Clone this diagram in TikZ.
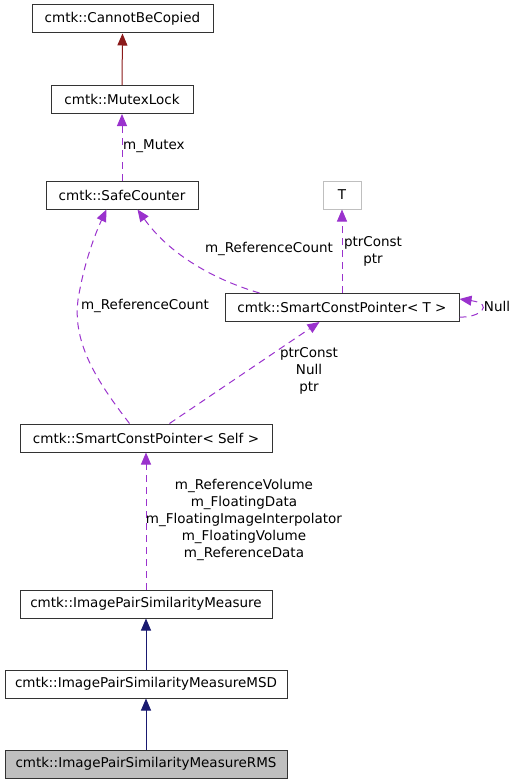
\documentclass[tikz,border=0pt]{standalone}
\usepackage{fontspec}
\setmainfont{DejaVu Sans}
\usetikzlibrary{arrows.meta,calc}
\definecolor{inh}{HTML}{191970}
\definecolor{usage}{HTML}{9A32CD}
\definecolor{priv}{HTML}{8B1A1A}
\definecolor{grayb}{HTML}{BFBFBF}
\begin{document}
\begin{tikzpicture}[x=1pt,y=-1pt,
  txt/.style={font=\fontsize{13.5}{17}\selectfont},
  box/.style={txt, draw=black!80, line width=1pt, rectangle, inner sep=0, minimum height=28pt},
  lbl/.style={txt, align=center, inner sep=0},
  use/.style={draw=usage, line width=1pt, dash pattern=on 7pt off 5pt, -{Triangle[length=12pt,width=10pt,color=usage]}},
  inhe/.style={draw=inh, line width=1pt, -{Triangle[length=12pt,width=10pt,color=inh]}},
  prive/.style={draw=priv, line width=1pt, -{Triangle[length=12pt,width=10pt,color=priv]}}]
\useasboundingbox (0,0) rectangle (515,784);
\node[box, minimum width=181pt] (cbc) at (122.5,19) {cmtk::CannotBeCopied};
\node[box, minimum width=142pt] (ml) at (122,99.5) {cmtk::MutexLock};
\node[box, minimum width=152pt] (sc) at (122,195) {cmtk::SafeCounter};
\node[box, draw=grayb, minimum width=38pt] (t) at (342,195) {T};
\node[box, minimum width=234pt] (scpt) at (342,307.5) {cmtk::SmartConstPointer< T >};
\node[box, minimum width=252pt] (scps) at (146,438) {cmtk::SmartConstPointer< Self >};
\node[box, minimum width=252pt] (ipsm) at (146,604) {cmtk::ImagePairSimilarityMeasure};
\node[box, minimum width=282pt] (msd) at (146,684) {cmtk::ImagePairSimilarityMeasureMSD};
\node[box, fill=grayb, minimum width=282pt] (rms) at (146,764) {cmtk::ImagePairSimilarityMeasureRMS};

\draw[prive] (ml.north) -- (cbc.south);
\draw[use] (sc.north) -- (ml.south);
\draw[use] ($(scps.north west)+(110,0)$) .. controls (100,385) and (72,345) .. (78,300)
  .. controls (84,262) and (96,232) .. ($(sc.south west)+(61,0)$);
\draw[use] ($(scpt.north west)+(35,0)$) .. controls (215,280) and (170,255) .. ($(sc.south west)+(92,0)$);
\draw[use] (scpt.north) -- (t.south);
\draw[use] ($(scpt.south east)+(0,-5)$) .. controls (480,318) and (495,304) .. ($(scpt.north east)+(0,6)$);
\draw[use] ($(scps.north west)+(150,0)$) -- ($(scpt.south west)+(95,0)$);
\draw[use] (ipsm.north) -- (scps.south);
\draw[inhe] (msd.north) -- (ipsm.south);
\draw[inhe] (rms.north) -- (msd.south);

\node[lbl, anchor=west] (l1) at (123,146) {m\_Mutex};
\node[lbl] (l2) at (145,306) {m\_ReferenceCount};
\node[lbl] (l3) at (269,249) {m\_ReferenceCount};
\node[lbl] (l4) at (373,251) {ptrConst\\ptr};
\node[lbl] (l5) at (497,306) {Null};
\node[lbl] (l6) at (309,371) {ptrConst\\Null\\ptr};
\node[lbl] (l7) at (244,520) {m\_ReferenceVolume\\m\_FloatingData\\m\_FloatingImageInterpolator\\m\_FloatingVolume\\m\_ReferenceData};
\end{tikzpicture}
\end{document}
